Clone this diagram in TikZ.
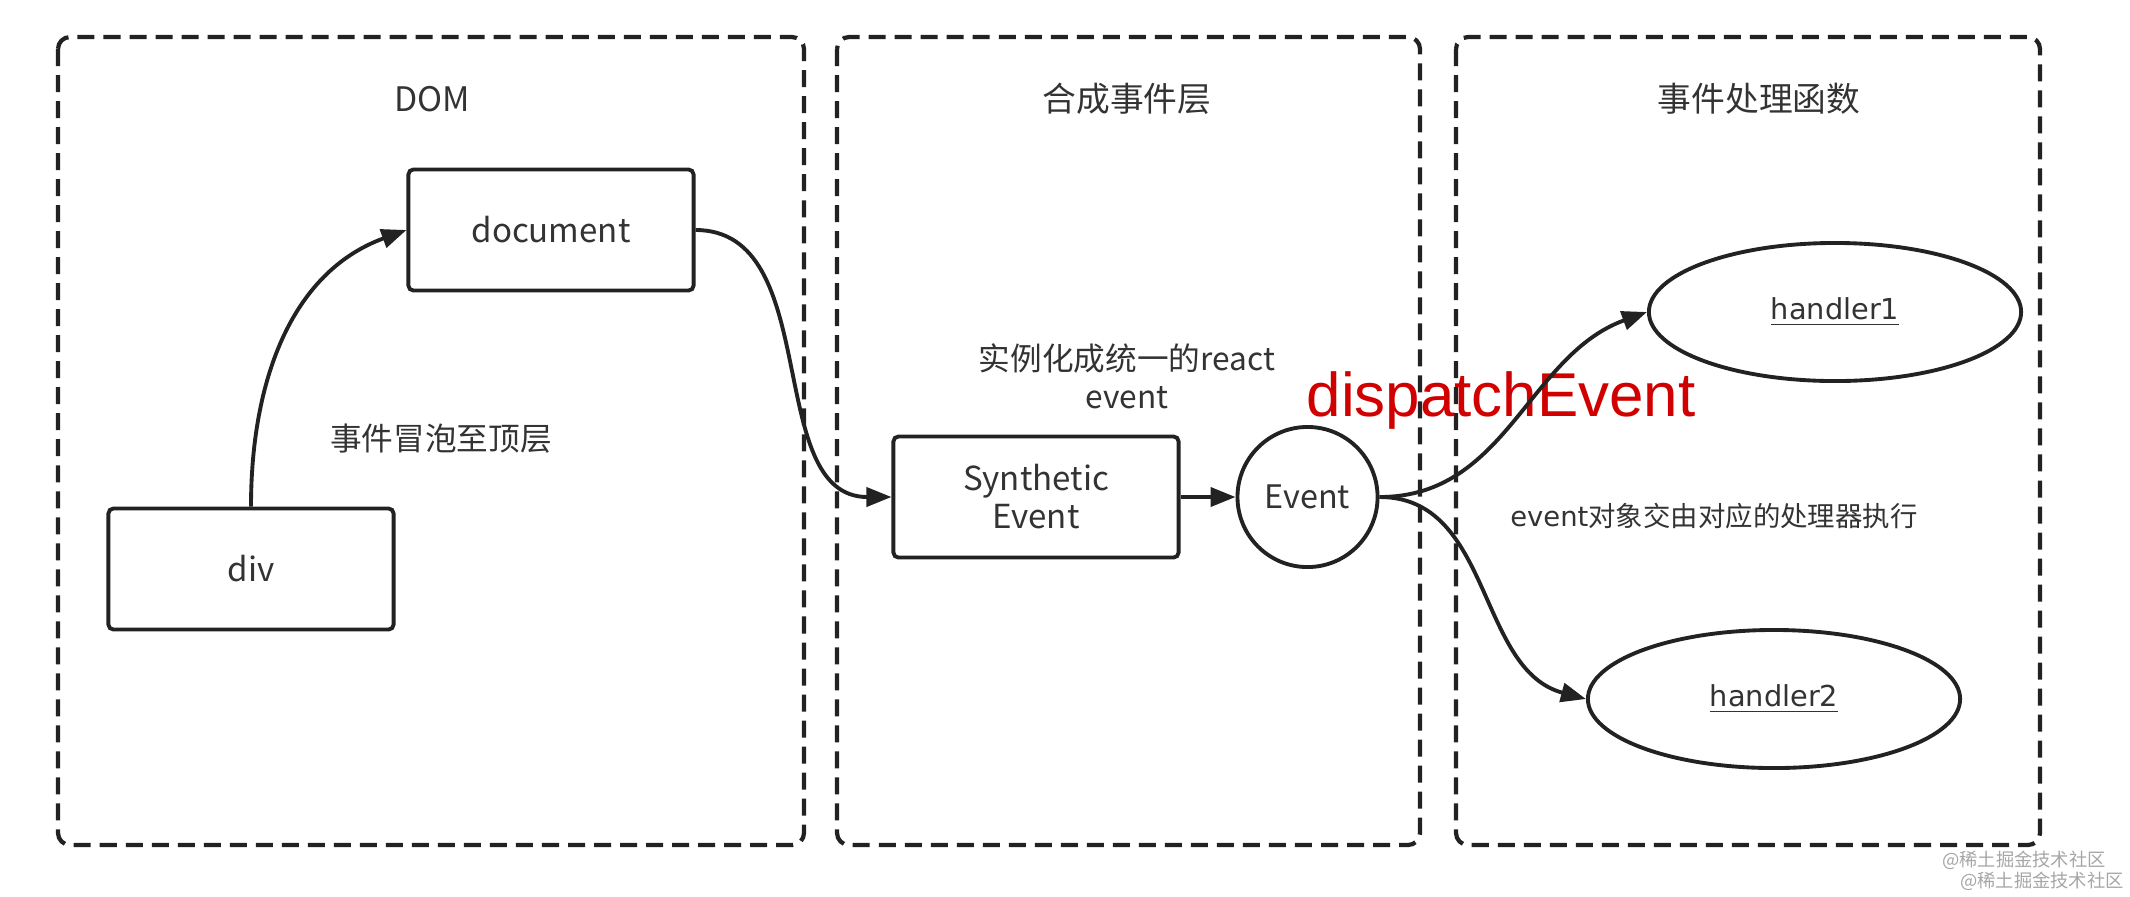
\documentclass[tikz,border=0pt]{standalone}
\usepackage{fontspec}
\setmainfont{Noto Sans CJK SC}
\newfontfamily\verdfont{DejaVu Sans}
\newfontfamily\arialfont{Liberation Sans}
\usetikzlibrary{arrows.meta,positioning,shapes.geometric}

\definecolor{inkgray}{HTML}{333333}
\definecolor{linegray}{HTML}{222222}
\definecolor{dispatchred}{HTML}{D10000}

\tikzset{
  layer/.style={draw=linegray, line width=1.2pt, dash pattern=on 0.17cm off 0.09cm, rounded corners=0.12cm},
  title/.style={text=inkgray, font=\fontsize{9.6}{12}\selectfont},
  note/.style={text=inkgray, font=\fontsize{9}{10.8}\selectfont, align=center},
  block/.style={draw=linegray, line width=1.1pt, rounded corners=0.05cm, minimum width=2.85cm,
    minimum height=1.21cm, text=inkgray, font=\fontsize{9.4}{10.8}\selectfont, align=center},
  bubble/.style={draw=linegray, line width=1.1pt, circle, minimum size=1.4cm, inner sep=0pt,
    text=inkgray, font=\fontsize{9.2}{12}\selectfont},
  handler/.style={draw=linegray, line width=1.1pt, ellipse, minimum width=3.72cm, minimum height=1.38cm,
    inner sep=0pt, text=inkgray, font=\verdfont\fontsize{8.2}{10}\selectfont},
  flow/.style={draw=linegray, line width=1.1pt, -{Triangle[length=0.25cm, width=0.19cm]}},
  watermark/.style={text=black!35, font=\fontsize{5.2}{6}\selectfont, inner sep=0pt}
}

\begin{document}
\begin{tikzpicture}[x=0.01cm, y=-0.01cm]
\useasboundingbox (0,0) rectangle (2130,896);

\draw[layer] (58,37) rectangle (804,845);
\draw[layer] (837,37) rectangle (1420,845);
\draw[layer] (1456,37) rectangle (2040,845);

\node[title] (domtitle) at (432,99) {DOM};
\node[title] (synthtitle) at (1127,99) {合成事件层};
\node[title] (handlertitle) at (1759,99) {事件处理函数};

\node[block] (document) at (551,230) {document};
\node[block] (div) at (251,569) {div};
\node[block] (synth) at (1036,497) {Synthetic\\Event};
\node[bubble, right=0.55cm of synth] (event) {Event};
\node[handler] (handler1) at (1835,312) {\underline{handler1}};
\node[handler] (handler2) at (1774,699) {\underline{handler2}};

\node[note] (bubbling) at (441,439) {事件冒泡至顶层};
\node[note] (instantiate) at (1127,376) {实例化成统一的react\\event};
\node[text=dispatchred, font=\arialfont\fontsize{17.6}{20}\selectfont] (dispatch) at (1501,400) {dispatchEvent};
\node[note, font=\fontsize{7.8}{9}\selectfont] (execute) at (1714,516) {{\verdfont event}对象交由对应的处理器执行};

\draw[flow] (div.north) to[out=90, in=200] (document.west);
\draw[flow] (document.east) to[out=0, in=180] (synth.west);
\draw[flow] (synth) -- (event);
\draw[flow] (event.east) to[out=0, in=200] (handler1.west);
\draw[flow] (event.east) to[out=0, in=165] (handler2.west);

\node[watermark] (mark1) at (2024,860) {@稀土掘金技术社区};
\node[watermark] (mark2) at (2042,881) {@稀土掘金技术社区};
\end{tikzpicture}
\end{document}
